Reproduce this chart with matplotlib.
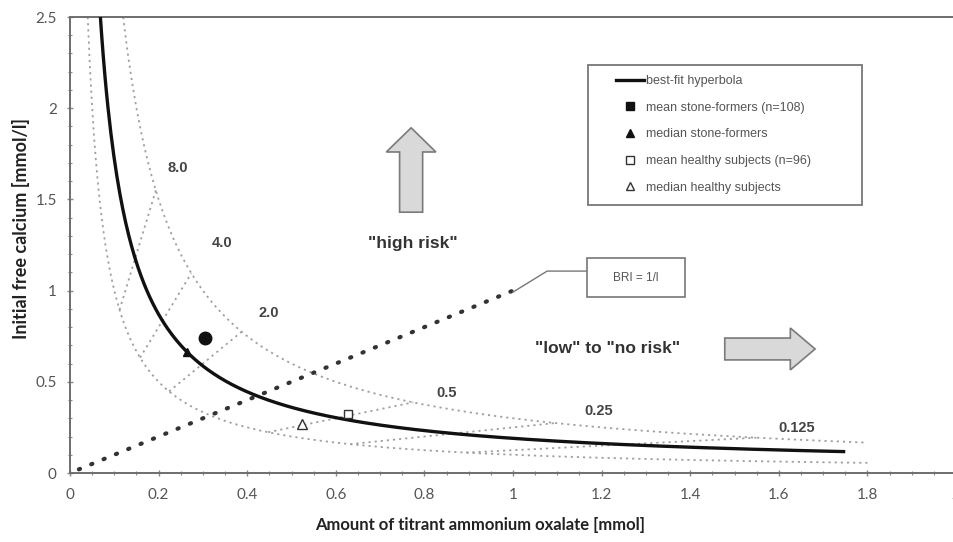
import numpy as np
import matplotlib
matplotlib.use("Agg")
import matplotlib.pyplot as plt
from matplotlib.patches import FancyArrow, Rectangle
from matplotlib.lines import Line2D
from matplotlib.ticker import MultipleLocator

# ---- values ---------------------------------------------------------------
# best-fit hyperbola  y = FIT_K / x + FIT_C
FIT_K = 0.17
FIT_C = 0.02
FIT_X_END = 1.75

# dotted band around the fit:  y = k / x
BAND_LOWER_K = 0.10
BAND_UPPER_K = 0.30
BAND_X_END = 1.80

# iso-BRI lines (y = BRI * x) and where their labels sit
bri_values = [8.0, 4.0, 2.0, 0.5, 0.25, 0.125]
bri_labels = ["8.0", "4.0", "2.0", "0.5", "0.25", "0.125"]
bri_label_x = [0.244, 0.343, 0.449, 0.851, 1.194, 1.641]
bri_label_y = [1.672, 1.261, 0.877, 0.439, 0.340, 0.247]

# BRI = 1 line
BRI_ONE = 1.0
BRI_ONE_X = [0.02, 1.0]

# group summary points (oxalate mmol, free calcium mmol/l)
mean_sf = (0.305, 0.74)
median_sf = (0.264, 0.663)
mean_healthy = (0.628, 0.323)
median_healthy = (0.524, 0.269)

x_ticks = [0, 0.2, 0.4, 0.6, 0.8, 1, 1.2, 1.4, 1.6, 1.8, 2]
x_tick_labels = ["0", "0.2", "0.4", "0.6", "0.8", "1", "1.2", "1.4", "1.6", "1.8", "2"]
y_ticks = [0, 0.5, 1, 1.5, 2, 2.5]
y_tick_labels = ["0", "0.5", "1", "1.5", "2", "2.5"]

# ---- figure ---------------------------------------------------------------
fig = plt.figure(figsize=(9.54, 5.42), dpi=100)
ax = fig.add_axes([0.0734, 0.1273, 0.9287, 0.8413])
ax.set_xlim(0, 2.0)
ax.set_ylim(0, 2.5)

grey_dot = dict(color="#a0a0a0", lw=1.3, linestyle=(0, (1.2, 2.2)))

# dotted confidence band
for k in (BAND_LOWER_K, BAND_UPPER_K):
    xs = np.linspace(k / 2.5, BAND_X_END, 400)
    ax.plot(xs, k / xs, **grey_dot, zorder=2)

# iso-BRI segments between the band curves
for b in bri_values:
    x0 = np.sqrt(BAND_LOWER_K / b)
    x1 = np.sqrt(BAND_UPPER_K / b)
    ax.plot([x0, x1], [b * x0, b * x1], **grey_dot, zorder=2)

for lab, lx, ly in zip(bri_labels, bri_label_x, bri_label_y):
    ax.text(lx, ly, lab, ha="center", va="center", fontsize=10.5,
            fontweight="bold", color="#444444", family="Liberation Sans")

# BRI = 1 line
bx = np.array(BRI_ONE_X)
ax.plot(bx, BRI_ONE * bx, color="#333333", lw=3.0, linestyle=(0, (0.3, 2.9)),
        dash_capstyle="round", zorder=3)

# leader to the BRI label box
ax.plot([1.0, 1.077, 1.167], [0.992, 1.107, 1.107], color="#777777", lw=1.0, zorder=3)
ax.add_patch(Rectangle((1.167, 0.965), 0.221, 0.213, fill=True, facecolor="white",
                       edgecolor="#777777", lw=1.2, zorder=3))
ax.text(1.2775, 1.071, "BRI = 1/l", ha="center", va="center", fontsize=8.5,
        color="#555555", family="Liberation Sans", zorder=4)

# best-fit hyperbola
xf = np.linspace(FIT_K / (2.5 - FIT_C), FIT_X_END, 500)
ax.plot(xf, FIT_K / xf + FIT_C, color="#111111", lw=2.4, zorder=4,
        solid_capstyle="butt")

# summary points
ax.plot(*mean_sf, marker="o", ms=9, color="#111111", zorder=5)
ax.plot(*median_sf, marker="^", ms=6, color="#111111", zorder=5)
ax.plot(*mean_healthy, marker="s", ms=6, mfc="white", mec="#333333", mew=1.0, zorder=5)
ax.plot(*median_healthy, marker="^", ms=7, mfc="white", mec="#333333", mew=1.0, zorder=5)

# risk annotations
ax.text(0.774, 1.261, '"high risk"', ha="center", va="center", fontsize=12.5,
        fontweight="bold", color="#333333", family="Liberation Sans")
ax.text(1.214, 0.685, '"low" to "no risk"', ha="center", va="center", fontsize=12.5,
        fontweight="bold", color="#333333", family="Liberation Sans")

arrow_style = dict(transform=ax.transAxes, facecolor="#d9d9d9", edgecolor="#7a7a7a",
                   lw=1.2, length_includes_head=True, zorder=3)
ax.add_patch(FancyArrow(0.385, 0.572, 0, 0.185, width=0.026, head_width=0.056,
                        head_length=0.053, **arrow_style))
ax.add_patch(FancyArrow(0.739, 0.272, 0.102, 0, width=0.048, head_width=0.092,
                        head_length=0.028, **arrow_style))

# legend
ax.add_patch(Rectangle((0.585, 0.588), 0.309, 0.307, transform=ax.transAxes,
                       facecolor="white", edgecolor="#777777", lw=1.3, zorder=6))
handles = [
    Line2D([], [], color="#111111", lw=2.4),
    Line2D([], [], marker="s", ls="none", ms=5.5, color="#111111"),
    Line2D([], [], marker="^", ls="none", ms=6, color="#111111"),
    Line2D([], [], marker="s", ls="none", ms=5.5, mfc="white", mec="#333333"),
    Line2D([], [], marker="^", ls="none", ms=6, mfc="white", mec="#333333"),
]
labels = ["best-fit hyperbola", "mean stone-formers (n=108)", "median stone-formers",
          "mean healthy subjects (n=96)", "median healthy subjects"]
leg = ax.legend(handles, labels, loc="upper left", bbox_to_anchor=(0.603, 0.897),
                frameon=False, labelspacing=1.17, handlelength=2.3,
                handletextpad=0.15, borderpad=0.4,
                prop={"family": "Liberation Sans", "size": 9})
leg.set_zorder(7)
for t in leg.get_texts():
    t.set_color("#555555")

# axes styling
for side in ("left", "bottom", "top"):
    ax.spines[side].set_color("#6e6e6e")
    ax.spines[side].set_linewidth(1.4)
ax.spines["right"].set_visible(False)

ax.set_xticks(x_ticks)
ax.set_xticklabels(x_tick_labels)
ax.set_yticks(y_ticks)
ax.set_yticklabels(y_tick_labels)
ax.xaxis.set_minor_locator(MultipleLocator(0.05))
ax.yaxis.set_minor_locator(MultipleLocator(0.1))
ax.tick_params(which="both", direction="inout", color="#888888", labelcolor="#555555",
               labelsize=11, top=False, right=False)
ax.tick_params(which="major", length=5, width=1)
ax.tick_params(which="minor", length=3, width=0.8)
ax.tick_params(axis="x", pad=8)
ax.tick_params(axis="y", pad=7)
for lab in ax.get_xticklabels() + ax.get_yticklabels():
    lab.set_family("Lato")

ax.set_xlabel("Amount of titrant ammonium oxalate [mmol]", fontsize=12, fontweight="bold",
              family="Lato", color="#222222")
ax.set_ylabel("Initial free calcium [mmol/l]", fontsize=13, fontweight="bold",
              family="Lato", color="#222222")
ax.xaxis.set_label_coords(0.463, -0.097)
ax.yaxis.set_label_coords(-0.045, 0.537)

fig.savefig("out.png", dpi=100)
